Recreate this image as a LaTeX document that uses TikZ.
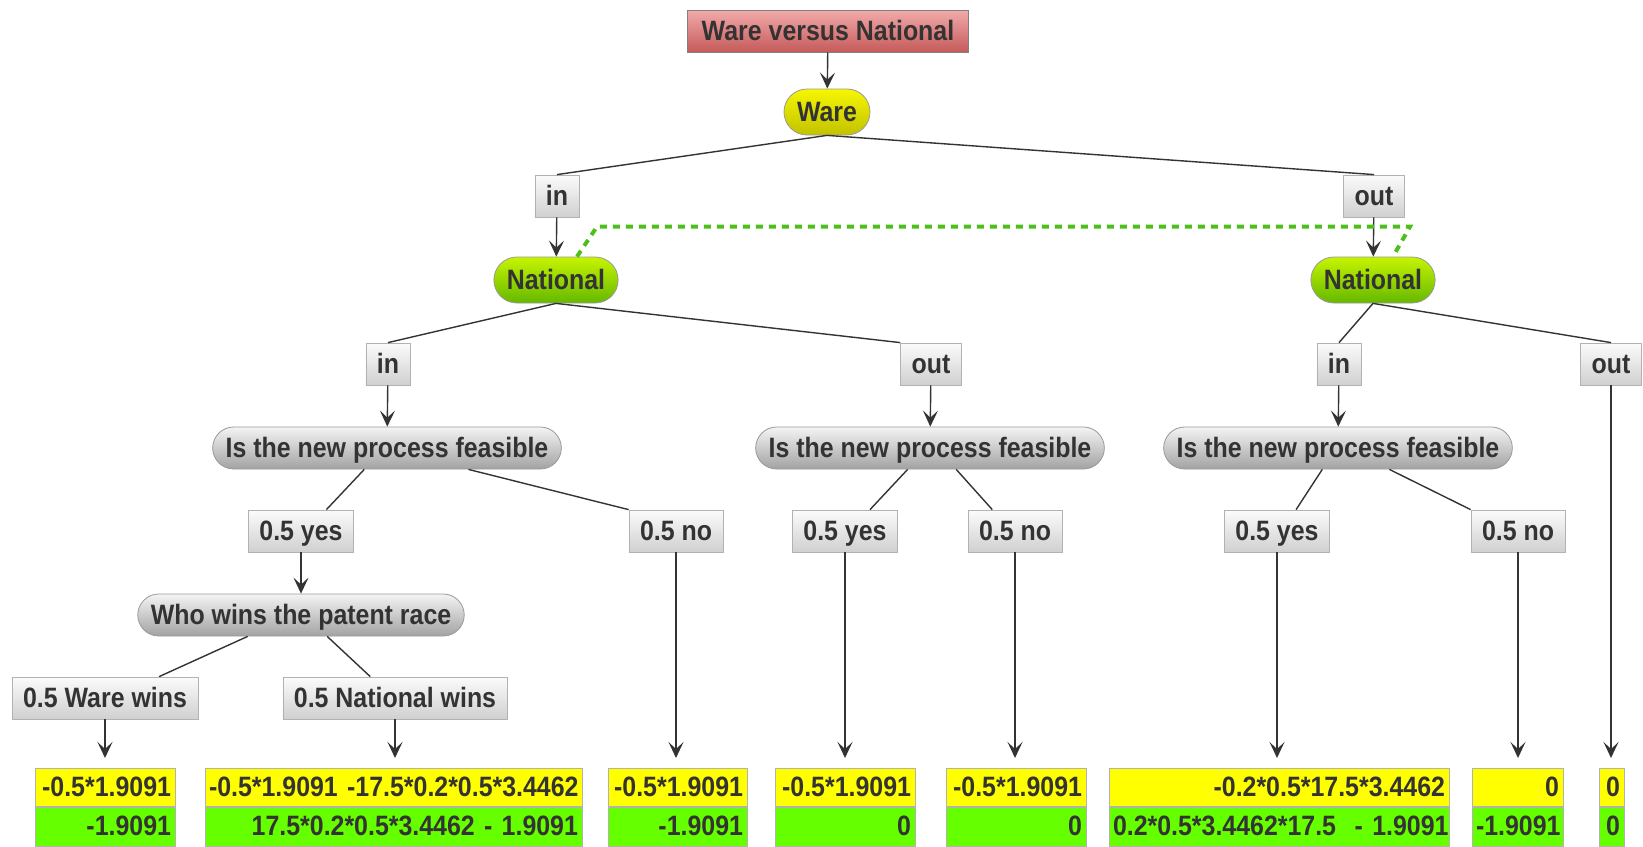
\documentclass[tikz,border=0pt]{standalone}
\usepackage{fontspec}
\newfontfamily\treefont{Liberation Sans}[FakeStretch=0.89]
\usetikzlibrary{arrows.meta,positioning,calc}
\definecolor{ink}{HTML}{333333}
\definecolor{roottop}{HTML}{F2AAAA}
\definecolor{rootbot}{HTML}{C65A5A}
\definecolor{waretop}{HTML}{F6F600}
\definecolor{warebot}{HTML}{C2C200}
\definecolor{nattop}{HTML}{C6F400}
\definecolor{natbot}{HTML}{66B800}
\definecolor{chancetop}{HTML}{F4F4F4}
\definecolor{chancebot}{HTML}{A2A2A2}
\definecolor{lbltop}{HTML}{FBFBFB}
\definecolor{lblbot}{HTML}{D0D0D0}
\definecolor{payyellow}{HTML}{FFFF00}
\definecolor{paygreen}{HTML}{66FF00}
\definecolor{linkgreen}{HTML}{4CC01A}

\begin{document}
\begin{tikzpicture}[x=0.5pt,y=-0.5pt,
  txt/.style={font=\fontsize{14}{16}\treefont\bfseries,text=ink,inner ysep=0pt,text height=11pt,text depth=2pt},
  rootbox/.style={txt,draw=gray,top color=roottop,bottom color=rootbot,minimum height=21pt,inner xsep=7pt},
  pill/.style={txt,draw=gray!80,inner xsep=6.5pt},
  ware/.style={pill,top color=waretop,bottom color=warebot,minimum height=23pt,rounded corners=11.5pt},
  nat/.style={pill,top color=nattop,bottom color=natbot,minimum height=23pt,rounded corners=11.5pt},
  chance/.style={pill,top color=chancetop,bottom color=chancebot,minimum height=21pt,rounded corners=10.5pt},
  lbl/.style={txt,draw=gray!60,top color=lbltop,bottom color=lblbot,minimum height=21pt,inner xsep=5.5pt},
  payY/.style={txt,draw=gray!60,fill=payyellow,text width=#1,align=right,minimum height=19pt,inner xsep=2pt,
    execute at begin node={\hbox\bgroup},execute at end node={\egroup}},
  payG/.style={payY=#1,fill=paygreen,minimum height=19.5pt},
  branch/.style={draw=ink,line width=0.7pt},
  arr/.style={branch,-{Stealth[length=8pt,width=7.5pt,inset=3.5pt]}},
  link/.style={linkgreen,line width=2pt,dash pattern=on 3.5pt off 3pt}
]
  \useasboundingbox (0,0) rectangle (1643,846);

  % decision and chance nodes
  \node[rootbox] (root) at (828,31) {Ware versus National};
  \node[ware] (ware) at (827,112) {Ware};
  \node[lbl] (in1) at (557,196) {in};
  \node[lbl] (out1) at (1374,196) {out};
  \node[nat] (natL) at (556,280) {National};
  \node[nat] (natR) at (1373,280) {National};
  \node[lbl] (in2) at (388,364) {in};
  \node[lbl] (out2) at (931,364) {out};
  \node[lbl] (in3) at (1339,364) {in};
  \node[lbl] (out3) at (1611,364) {out};
  \node[chance] (isL) at (387,448) {Is the new process feasible};
  \node[chance] (isM) at (930,448) {Is the new process feasible};
  \node[chance] (isR) at (1338,448) {Is the new process feasible};
  \node[lbl] (yesL) at (301,531) {0.5 yes};
  \node[lbl] (noL) at (676,531) {0.5 no};
  \node[lbl] (yesM) at (845,531) {0.5 yes};
  \node[lbl] (noM) at (1015,531) {0.5 no};
  \node[lbl] (yesR) at (1277,531) {0.5 yes};
  \node[lbl] (noR) at (1518,531) {0.5 no};
  \node[chance] (who) at (301,615) {Who wins the patent race};
  \node[lbl] (wareW) at (105,698) {0.5 Ware wins};
  \node[lbl] (natW) at (395,698) {0.5 National wins};

  % payoffs
  \node[payY=66pt,anchor=north] (pay1y) at (105,768) {-0.5*1.9091};
  \node[payG=66pt,below=0pt of pay1y] (pay1g) {-1.9091};
  \node[payY=184.5pt,anchor=north] (pay2y) at (393.5,768) {-0.5*1.9091 -17.5*0.2*0.5*3.4462};
  \node[payG=184.5pt,below=0pt of pay2y] (pay2g) {17.5*0.2*0.5*3.4462 - 1.9091};
  \node[payY=65.5pt,anchor=north] (pay3y) at (677.5,768) {-0.5*1.9091};
  \node[payG=65.5pt,below=0pt of pay3y] (pay3g) {-1.9091};
  \node[payY=66pt,anchor=north] (pay4y) at (845,768) {-0.5*1.9091};
  \node[payG=66pt,below=0pt of pay4y] (pay4g) {0};
  \node[payY=66pt,anchor=north] (pay5y) at (1016,768) {-0.5*1.9091};
  \node[payG=66pt,below=0pt of pay5y] (pay5g) {0};
  \node[payY=166pt,anchor=north] (pay6y) at (1279,768) {-0.2*0.5*17.5*3.4462};
  \node[payG=166pt,below=0pt of pay6y] (pay6g) {0.2*0.5*3.4462*17.5\ \ - 1.9091};
  \node[payY=41.5pt,anchor=north] (pay7y) at (1517.5,768) {0};
  \node[payG=41.5pt,below=0pt of pay7y] (pay7g) {-1.9091};
  \node[payY=8.5pt,anchor=north] (pay8y) at (1611.5,768) {0};
  \node[payG=8.5pt,below=0pt of pay8y] (pay8g) {0};

  % arrows into nodes
  \draw[arr] (root) -- (ware);
  \draw[arr] (in1) -- (natL);
  \draw[arr] (out1) -- (natR);
  \draw[arr] (in2) -- (isL);
  \draw[arr] (out2) -- (isM);
  \draw[arr] (in3) -- (isR);
  \draw[arr] (yesL) -- (who);
  \foreach \from/\to in {wareW/pay1y,natW/pay2y,noL/pay3y,yesM/pay4y,noM/pay5y,yesR/pay6y,noR/pay7y,out3/pay8y}
    \draw[arr,shorten >=5pt] (\from.south) -- (\from.south |- \to.north);

  % branches
  \draw[branch] (ware.south) -- (in1.north);
  \draw[branch] (ware.south) -- (out1.north);
  \draw[branch] (natL.south) -- (in2.north);
  \draw[branch] (natL.south) -- (out2.north west);
  \draw[branch] (natR.south) -- (in3.north);
  \draw[branch] (natR.south) -- (out3.north);
  \draw[branch] ($(isL.south west)!0.435!(isL.south east)$) -- ($(yesL.north west)!0.74!(yesL.north east)$);
  \draw[branch] ($(isL.south west)!0.733!(isL.south east)$) -- (noL.north west);
  \draw[branch] ($(isM.south west)!0.436!(isM.south east)$) -- ($(yesM.north west)!0.736!(yesM.north east)$);
  \draw[branch] ($(isM.south west)!0.575!(isM.south east)$) -- ($(noM.north west)!0.26!(noM.north east)$);
  \draw[branch] ($(isR.south west)!0.455!(isR.south east)$) -- ($(yesR.north west)!0.68!(yesR.north east)$);
  \draw[branch] ($(isR.south west)!0.647!(isR.south east)$) -- (noR.north west);
  \draw[branch] ($(who.south west)!0.337!(who.south east)$) -- ($(wareW.north west)!0.79!(wareW.north east)$);
  \draw[branch] ($(who.south west)!0.58!(who.south east)$) -- ($(natW.north west)!0.39!(natW.north east)$);

  % information set
  \draw[link] ([xshift=10.5pt]natL.north) -- ([xshift=20.5pt,yshift=15pt]natL.north)
    -- ([xshift=18.5pt,yshift=15pt]natR.north) -- ([xshift=10pt]natR.north);
\end{tikzpicture}
\end{document}
